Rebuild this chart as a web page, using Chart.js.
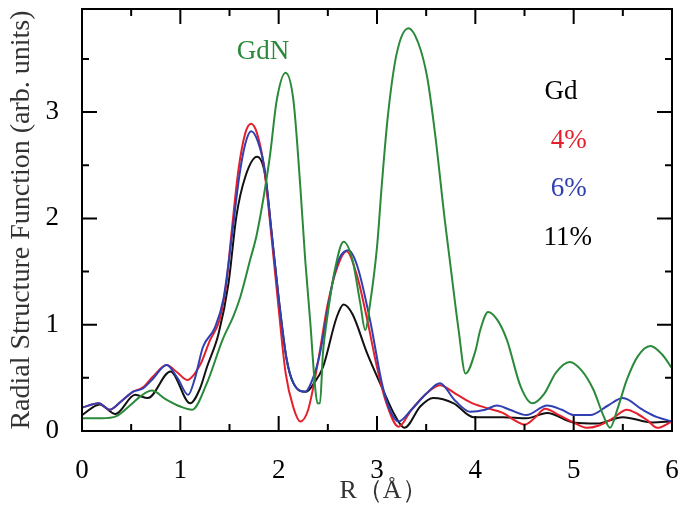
<!DOCTYPE html>
<html>
<head>
<meta charset="utf-8">
<script src="https://cdn.jsdelivr.net/npm/chart.js@4.4.1/dist/chart.umd.min.js"></script>
<style>
  html, body { margin: 0; padding: 0; background: #fff; }
  #wrap { width: 679px; height: 517px; }
</style>
</head>
<body>
<div id="wrap"><canvas id="graf"></canvas></div>
<script>
// Dados (R em Å, função de estrutura radial)
const rGdN = [0, 0.2, 0.35, 0.5, 0.6, 0.71, 0.85, 1.0, 1.12, 1.27, 1.43, 1.54, 1.61, 1.71, 1.78, 1.91, 1.98, 2.07, 2.15, 2.22, 2.27, 2.32, 2.37, 2.395, 2.42, 2.45, 2.49, 2.57, 2.66, 2.75, 2.83, 2.88, 2.93, 3.0, 3.05, 3.11, 3.2, 3.32, 3.42, 3.51, 3.59, 3.69, 3.74, 3.83, 3.9, 4.0, 4.05, 4.13, 4.22, 4.32, 4.46, 4.58, 4.7, 4.82, 4.96, 5.08, 5.2, 5.3, 5.37, 5.45, 5.54, 5.65, 5.78, 5.9, 6.0]
const fGdN = [0.12, 0.12, 0.14, 0.25, 0.33, 0.38, 0.3, 0.23, 0.2, 0.45, 0.86, 1.08, 1.26, 1.61, 1.86, 2.58, 3.11, 3.37, 3.11, 2.3, 1.61, 1.04, 0.42, 0.26, 0.26, 0.73, 1.04, 1.51, 1.78, 1.61, 1.2, 0.95, 1.2, 1.73, 2.33, 2.96, 3.55, 3.79, 3.65, 3.33, 2.8, 1.98, 1.61, 0.95, 0.54, 0.75, 0.95, 1.12, 1.05, 0.86, 0.42, 0.26, 0.35, 0.55, 0.65, 0.57, 0.39, 0.15, 0.03, 0.22, 0.48, 0.7, 0.8, 0.72, 0.59]

const r4 = [0, 0.17, 0.28, 0.4, 0.52, 0.62, 0.72, 0.86, 0.97, 1.07, 1.2, 1.3, 1.4, 1.47, 1.52, 1.59, 1.66, 1.72, 1.78, 1.85, 1.93, 2.0, 2.07, 2.15, 2.22, 2.3, 2.4, 2.5, 2.6, 2.69, 2.8, 2.9, 3.0, 3.1, 3.22, 3.35, 3.5, 3.64, 3.8, 3.95, 4.1, 4.28, 4.4, 4.5, 4.6, 4.71, 4.85, 5.0, 5.13, 5.25, 5.4, 5.54, 5.65, 5.75, 5.85, 6.0]
const f4 = [0.22, 0.26, 0.2, 0.28, 0.37, 0.41, 0.51, 0.62, 0.55, 0.48, 0.62, 0.85, 1.05, 1.4, 1.86, 2.45, 2.8, 2.89, 2.8, 2.49, 1.8, 1.15, 0.55, 0.22, 0.09, 0.2, 0.65, 1.2, 1.55, 1.69, 1.45, 1.05, 0.6, 0.25, 0.04, 0.2, 0.35, 0.43, 0.35, 0.27, 0.22, 0.17, 0.1, 0.06, 0.12, 0.21, 0.15, 0.08, 0.03, 0.05, 0.12, 0.2, 0.16, 0.1, 0.03, 0.09]

const r6 = [0, 0.17, 0.28, 0.4, 0.52, 0.62, 0.72, 0.86, 0.97, 1.08, 1.15, 1.23, 1.35, 1.44, 1.52, 1.6, 1.66, 1.72, 1.79, 1.86, 1.93, 2.0, 2.08, 2.15, 2.27, 2.35, 2.42, 2.5, 2.56, 2.62, 2.71, 2.8, 2.93, 3.05, 3.13, 3.22, 3.35, 3.5, 3.64, 3.79, 3.95, 4.1, 4.22, 4.35, 4.52, 4.73, 4.88, 5.0, 5.17, 5.35, 5.5, 5.7, 5.85, 6.0]
const f6 = [0.22, 0.26, 0.2, 0.28, 0.37, 0.4, 0.49, 0.62, 0.5, 0.34, 0.5, 0.79, 0.97, 1.25, 1.8, 2.4, 2.7, 2.82, 2.72, 2.45, 1.85, 1.25, 0.68, 0.45, 0.37, 0.5, 0.73, 1.15, 1.45, 1.63, 1.7, 1.55, 1.04, 0.45, 0.2, 0.09, 0.2, 0.35, 0.45, 0.29, 0.18, 0.2, 0.24, 0.2, 0.15, 0.24, 0.2, 0.15, 0.15, 0.24, 0.31, 0.2, 0.13, 0.09]

const r11 = [0, 0.18, 0.34, 0.54, 0.67, 0.9, 1.1, 1.2, 1.27, 1.39, 1.49, 1.57, 1.66, 1.78, 1.86, 1.93, 2.0, 2.08, 2.15, 2.28, 2.36, 2.45, 2.59, 2.66, 2.75, 2.9, 3.06, 3.18, 3.28, 3.44, 3.57, 3.78, 3.98, 4.28, 4.52, 4.73, 5.0, 5.24, 5.5, 5.8, 6.0]
const f11 = [0.15, 0.25, 0.16, 0.34, 0.31, 0.56, 0.26, 0.4, 0.6, 0.92, 1.39, 2.02, 2.39, 2.58, 2.42, 1.85, 1.25, 0.68, 0.45, 0.37, 0.45, 0.6, 1.07, 1.19, 1.1, 0.73, 0.39, 0.15, 0.03, 0.23, 0.31, 0.26, 0.13, 0.13, 0.12, 0.17, 0.08, 0.07, 0.13, 0.08, 0.09]

const xTicks = [0, 1, 2, 3, 4, 5, 6]
const yTicks = [0, 1, 2, 3]

function pares(rs, fs) {
    return rs.map((r, i) => ({ x: r, y: fs[i] }))
}

const serif = '"Liberation Serif", "Times New Roman", serif'

// Moldura com ticks para dentro (nos quatro lados) + rótulos de texto
const moldura = {
    id: 'moldura',
    afterDatasetsDraw(chart) {
        const { ctx, chartArea: a, scales: { x, y } } = chart
        ctx.save()
        ctx.strokeStyle = '#000'
        ctx.lineWidth = 2
        ctx.strokeRect(a.left, a.top, a.right - a.left, a.bottom - a.top)
        ctx.beginPath()
        for (let v = 0; v <= 6.001; v += 0.5) {
            const px = x.getPixelForValue(v)
            const len = Number.isInteger(v) ? 15 : 7
            ctx.moveTo(px, a.bottom); ctx.lineTo(px, a.bottom - len)
            ctx.moveTo(px, a.top); ctx.lineTo(px, a.top + len)
        }
        for (let v = 0.5; v <= 3.5; v += 0.5) {
            const py = y.getPixelForValue(v)
            const len = Number.isInteger(v) ? 15 : 7
            ctx.moveTo(a.left, py); ctx.lineTo(a.left + len, py)
            ctx.moveTo(a.right, py); ctx.lineTo(a.right - len, py)
        }
        ctx.stroke()

        ctx.font = '27px ' + serif
        ctx.textAlign = 'center'
        ctx.textBaseline = 'middle'
        const rotulos = [
            ['GdN', 1.84, 3.57, '#2a8a3a'],
            ['Gd', 4.87, 3.19, '#000'],
            ['4%', 4.95, 2.73, '#e3202c'],
            ['6%', 4.95, 2.28, '#3040b0'],
            ['11%', 4.94, 1.82, '#000']
        ]
        rotulos.forEach(([t, vx, vy, c]) => {
            ctx.fillStyle = c
            ctx.fillText(t, x.getPixelForValue(vx), y.getPixelForValue(vy))
        })
        ctx.restore()
    }
}

const linha = (label, data, cor) => ({
    label: label,
    data: data,
    borderColor: cor,
    borderWidth: 2,
    pointRadius: 0,
    fill: false,
    cubicInterpolationMode: 'monotone'
})

const data = {
    datasets: [
        linha('GdN', pares(rGdN, fGdN), '#2a8a3a'),
        linha('6%', pares(r6, f6), '#3040b0'),
        linha('4%', pares(r4, f4), '#e3202c'),
        linha('11%', pares(r11, f11), '#111')
    ]
}

const config = {
    type: 'line',
    data: data,
    options: {
        responsive: true,
        maintainAspectRatio: false,
        animation: false,
        layout: { padding: { left: 0, top: 9, right: 7, bottom: 0 } },
        plugins: {
            legend: { display: false },
            tooltip: { enabled: false }
        },
        scales: {
            x: {
                type: 'linear',
                min: 0,
                max: 6,
                afterBuildTicks: s => { s.ticks = xTicks.map(v => ({ value: v })) },
                afterFit: s => { s.height = 86; s.paddingLeft = 0; s.paddingRight = 0 },
                grid: { display: false },
                border: { display: false },
                ticks: { color: '#000', padding: 16, font: { family: serif, size: 27 } },
                title: {
                    display: true,
                    text: '  R（Å）',
                    color: '#333',
                    padding: { top: 0, bottom: 10 },
                    font: { family: serif, size: 26 }
                }
            },
            y: {
                type: 'linear',
                min: 0,
                max: 3.97,
                afterBuildTicks: s => { s.ticks = yTicks.map(v => ({ value: v })) },
                afterFit: s => { s.width = 82; s.paddingTop = 0; s.paddingBottom = 0 },
                grid: { display: false },
                border: { display: false },
                ticks: { color: '#000', padding: 15, font: { family: serif, size: 27 } },
                title: {
                    display: true,
                    text: 'Radial Structure Function (arb. units)',
                    color: '#333',
                    padding: { top: 5, bottom: 0 },
                    font: { family: serif, size: 28 }
                }
            }
        }
    },
    plugins: [moldura]
}

const grafico = new Chart(document.getElementById('graf'), config)
</script>
</body>
</html>
